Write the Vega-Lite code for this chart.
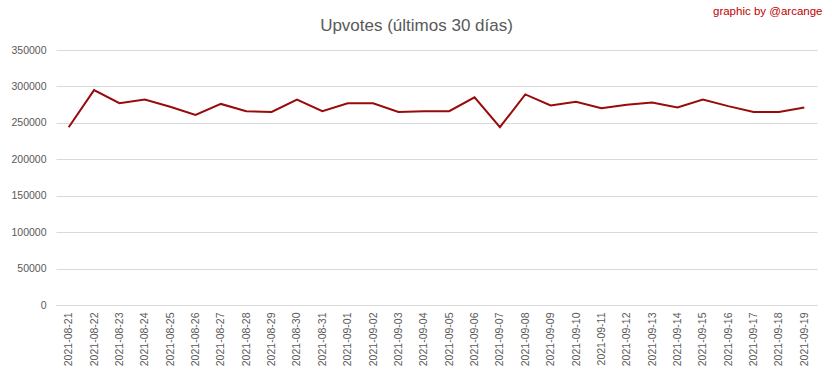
{
  "$schema": "https://vega.github.io/schema/vega-lite/v6.json",
  "width": 761,
  "height": 255,
  "autosize": {"type": "none"},
  "padding": {"left": 56, "top": 50, "right": 15, "bottom": 74},
  "background": "white",
  "config": {
    "font": "Liberation Sans",
    "view": {"stroke": null}
  },
  "title": {
    "text": "Upvotes (últimos 30 días)",
    "anchor": "middle",
    "frame": "group",
    "fontSize": 17,
    "fontWeight": "normal",
    "color": "#595959",
    "dx": -20,
    "offset": -30
  },
  "data": {
    "values": [
      {"date": "2021-08-21", "upvotes": 244000},
      {"date": "2021-08-22", "upvotes": 295000},
      {"date": "2021-08-23", "upvotes": 277000},
      {"date": "2021-08-24", "upvotes": 282000},
      {"date": "2021-08-25", "upvotes": 272000},
      {"date": "2021-08-26", "upvotes": 261000},
      {"date": "2021-08-27", "upvotes": 276000},
      {"date": "2021-08-28", "upvotes": 266000},
      {"date": "2021-08-29", "upvotes": 265000},
      {"date": "2021-08-30", "upvotes": 282000},
      {"date": "2021-08-31", "upvotes": 266000},
      {"date": "2021-09-01", "upvotes": 277000},
      {"date": "2021-09-02", "upvotes": 277000},
      {"date": "2021-09-03", "upvotes": 265000},
      {"date": "2021-09-04", "upvotes": 266000},
      {"date": "2021-09-05", "upvotes": 266000},
      {"date": "2021-09-06", "upvotes": 285000},
      {"date": "2021-09-07", "upvotes": 244000},
      {"date": "2021-09-08", "upvotes": 289000},
      {"date": "2021-09-09", "upvotes": 274000},
      {"date": "2021-09-10", "upvotes": 279000},
      {"date": "2021-09-11", "upvotes": 270000},
      {"date": "2021-09-12", "upvotes": 275000},
      {"date": "2021-09-13", "upvotes": 278000},
      {"date": "2021-09-14", "upvotes": 271000},
      {"date": "2021-09-15", "upvotes": 282000},
      {"date": "2021-09-16", "upvotes": 273000},
      {"date": "2021-09-17", "upvotes": 265000},
      {"date": "2021-09-18", "upvotes": 265000},
      {"date": "2021-09-19", "upvotes": 271000}
    ]
  },
  "mark": {"type": "line", "color": "#990a0a", "strokeWidth": 2},
  "encoding": {
    "x": {
      "field": "date",
      "type": "ordinal",
      "sort": null,
      "scale": {"type": "point", "padding": 0.5},
      "axis": {
        "title": null,
        "labelAngle": -90,
        "labelFontSize": 10.5,
        "labelColor": "#595959",
        "labelPadding": 7,
        "ticks": false,
        "domain": true,
        "domainColor": "#d9d9d9",
        "grid": false
      }
    },
    "y": {
      "field": "upvotes",
      "type": "quantitative",
      "scale": {"domain": [0, 350000]},
      "axis": {
        "values": [0, 50000, 100000, 150000, 200000, 250000, 300000, 350000],
        "format": "d",
        "labelFontSize": 10.5,
        "labelColor": "#595959",
        "labelPadding": 10,
        "ticks": false,
        "domain": false,
        "grid": true,
        "gridColor": "#d9d9d9",
        "gridWidth": 1,
        "title": "graphic by @arcange",
        "titleAngle": 0,
        "titleX": 766,
        "titleY": -36,
        "titleAlign": "right",
        "titleBaseline": "alphabetic",
        "titleFontSize": 11.5,
        "titleFontWeight": "normal",
        "titleColor": "#c00000"
      }
    }
  }
}
